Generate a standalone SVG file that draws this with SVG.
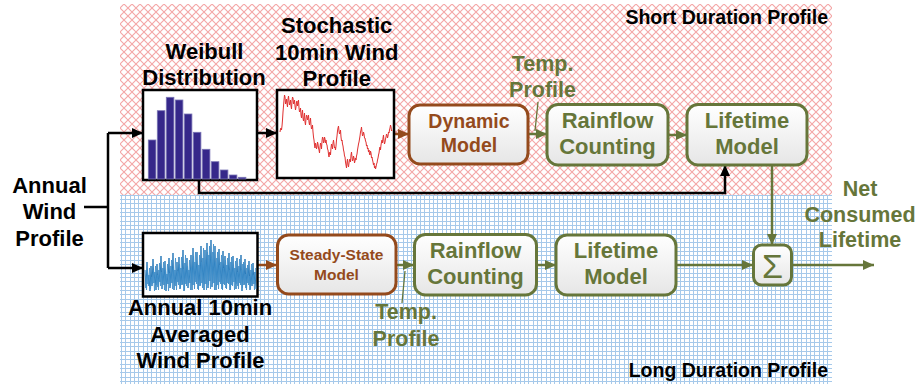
<svg xmlns="http://www.w3.org/2000/svg" width="919" height="388" viewBox="0 0 919 388">
<style>
text{font-family:"Liberation Sans",Arial,sans-serif;font-weight:bold;text-anchor:middle}
.k{fill:#000;font-size:22px}
.g{fill:#66763a;font-size:22px}
.gs{fill:#66763a;font-size:21.5px}
.b{fill:#944a1c;font-size:19.5px}
.bs{fill:#944a1c;font-size:15.5px}
.reg{fill:#000;font-size:19.5px;text-anchor:end}
.gbox{fill:url(#boxg);stroke:#66763a;stroke-width:3}
.bbox{fill:url(#boxg);stroke:#944a1c;stroke-width:3}
.img{fill:#fff;stroke:#000;stroke-width:2.5}
.ck{fill:none;stroke:#000;stroke-width:2.5}
.cg{fill:none;stroke:#66763a;stroke-width:2.5}
.cb{fill:none;stroke:#944a1c;stroke-width:2.5}
.lead{fill:none;stroke:#66763a;stroke-width:1.3}
.bar{fill:#36288a;stroke:#7a74b4;stroke-width:0.8}
</style>
<defs>
<pattern id="pink" width="8" height="8" patternUnits="userSpaceOnUse">
<rect width="8" height="8" fill="#fff"/>
<path d="M0,0 L8,8 M8,0 L0,8" stroke="#f4a6a6" stroke-width="1.1" fill="none"/>
</pattern>
<pattern id="blue" width="13" height="13" patternUnits="userSpaceOnUse">
<rect width="13" height="13" fill="#fff"/>
<path d="M0.5,0 V13 M4.5,0 V13 M8.5,0 V13 M0,0.5 H13 M0,4.5 H13 M0,8.5 H13" stroke="#a6c9ea" stroke-width="1" fill="none"/>
</pattern>
<linearGradient id="boxg" x1="0" y1="0" x2="0" y2="1">
<stop offset="0" stop-color="#ffffff"/>
<stop offset="1" stop-color="#e6e6e6"/>
</linearGradient>
<marker id="ak" markerUnits="userSpaceOnUse" markerWidth="11" markerHeight="10" refX="11" refY="5" orient="auto"><path d="M0,0 L11,5 L0,10 z" fill="#000"/></marker>
<marker id="ag" markerUnits="userSpaceOnUse" markerWidth="11" markerHeight="10" refX="11" refY="5" orient="auto"><path d="M0,0 L11,5 L0,10 z" fill="#66763a"/></marker>
<marker id="ab" markerUnits="userSpaceOnUse" markerWidth="11" markerHeight="10" refX="11" refY="5" orient="auto"><path d="M0,0 L11,5 L0,10 z" fill="#944a1c"/></marker>
</defs>

<g id="regions">
<rect x="120" y="4" width="712" height="191" fill="url(#pink)"/>
<rect x="120" y="195" width="712" height="189" fill="url(#blue)"/>
<text class="reg" x="828" y="24">Short Duration Profile</text>
<text class="reg" x="828" y="377">Long Duration Profile</text>
</g>

<g id="connectors">
<path class="ck" d="M84,207 H108 M108,133 V268"/>
<path class="ck" d="M108,133 H143" marker-end="url(#ak)"/>
<path class="ck" d="M108,268 H143" marker-end="url(#ak)"/>
<path class="ck" d="M257,133 H277" marker-end="url(#ak)"/>
<path class="ck" d="M199,180 V193 H725 V165" marker-end="url(#ak)"/>
<path class="cb" d="M394,134 H409" marker-end="url(#ab)"/>
<path class="cb" d="M258,265 H277" marker-end="url(#ab)"/>
<path class="cg" d="M528,134 H547" marker-end="url(#ag)"/>
<path class="cg" d="M668,135 H687" marker-end="url(#ag)"/>
<path class="cg" d="M772,165 V245" marker-end="url(#ag)"/>
<path class="cg" d="M396,265 H414" marker-end="url(#ag)"/>
<path class="cg" d="M537,265 H556" marker-end="url(#ag)"/>
<path class="cg" d="M676,265 H753" marker-end="url(#ag)"/>
<path class="cg" d="M792,265 H874" marker-end="url(#ag)"/>
<path class="lead" d="M538,102 L535,131"/>
<path class="lead" d="M405,271 L402,303"/>
</g>

<g id="annual-input">
<text class="k" x="49.5" y="193">Annual</text>
<text class="k" x="49.5" y="219">Wind</text>
<text class="k" x="49.5" y="246">Profile</text>
</g>

<g id="weibull">
<text class="k" x="204.5" y="59">Weibull</text>
<text class="k" x="204" y="85">Distribution</text>
<rect class="img" x="143" y="90" width="114" height="90"/>
<rect class="bar" x="148.3" y="140" width="7.6" height="39"/>
<rect class="bar" x="157.3" y="110.7" width="7.6" height="68.3"/>
<rect class="bar" x="166.3" y="97.3" width="7.6" height="81.7"/>
<rect class="bar" x="175.3" y="100" width="7.6" height="79"/>
<rect class="bar" x="184.3" y="114" width="7.6" height="65"/>
<rect class="bar" x="193.3" y="132.3" width="7.6" height="46.7"/>
<rect class="bar" x="202.3" y="149.3" width="7.6" height="29.7"/>
<rect class="bar" x="211.3" y="161.7" width="7.6" height="17.3"/>
<rect class="bar" x="220.3" y="170" width="7.6" height="9"/>
<rect class="bar" x="229.3" y="175" width="7.6" height="4"/>
<rect class="bar" x="238.3" y="177.3" width="7.6" height="1.7"/>
</g>

<g id="stochastic">
<text class="k" x="336.7" y="33">Stochastic</text>
<text class="k" x="336.7" y="60">10min Wind</text>
<text class="k" x="336.7" y="86">Profile</text>
<rect class="img" x="277" y="90" width="117" height="88"/>
<path fill="none" stroke="#e03030" stroke-width="1" d="M280,132 L280.5,129 L281,128 L281.5,130 L282,126 L282.5,120 L283,112 L283.5,106 L284,100 L284.5,95 L285,97 L285.5,104 L286,102 L286.5,99 L287,104 L287.5,107 L288,99 L288.5,96 L289,101 L289.5,105 L290,103 L290.5,100 L291,106 L291.5,109 L292,101 L292.5,97 L293,98 L293.5,104 L294,103 L294.5,100 L295,106 L295.5,110 L296,107 L296.5,102 L297,101 L297.5,106 L298,103 L298.5,100 L299,108 L299.5,112 L300,111 L300.5,108 L301,115 L301.5,118 L302,113 L302.5,110 L303,118 L303.5,121 L304,117 L304.5,113 L305,122 L305.5,125 L306,119 L306.5,115 L307,116 L307.5,120 L308,118 L308.5,115 L309,122 L309.5,125 L310,121 L310.5,118 L311,125 L311.5,129 L312,128 L312.5,125 L313,132 L313.5,137 L314,140 L314.5,145 L315,148 L315.5,143 L316,145 L316.5,149 L317,147 L317.5,142 L318,144 L318.5,148 L319,150 L319.5,153 L320,147 L320.5,143 L321,145 L321.5,149 L322,141 L322.5,137 L323,138 L323.5,143 L324,142 L324.5,137 L325,139 L325.5,143 L326,140 L326.5,144 L327,145 L327.5,149 L328,150 L328.5,154 L329,157 L329.5,153 L330,152 L330.5,155 L331,148 L331.5,144 L332,146 L332.5,149 L333,143 L333.5,140 L334,144 L334.5,148 L335,147 L335.5,150 L336,146 L336.5,140 L337,136 L337.5,131 L338,128 L338.5,126 L339,131 L339.5,134 L340,133 L340.5,130 L341,137 L341.5,141 L342,140 L342.5,144 L343,146 L343.5,150 L344,152 L344.5,156 L345,157 L345.5,162 L346,165 L346.5,168 L347,162 L347.5,159 L348,165 L348.5,167 L349,163 L349.5,160 L350,159 L350.5,162 L351,155 L351.5,152 L352,157 L352.5,161 L353,160 L353.5,156 L354,158 L354.5,163 L355,161 L355.5,158 L356,160 L356.5,156 L357,154 L357.5,150 L358,147 L358.5,144 L359,142 L359.5,139 L360,136 L360.5,132 L361,130 L361.5,127 L362,132 L362.5,136 L363,135 L363.5,132 L364,134 L364.5,138 L365,138 L365.5,141 L366,142 L366.5,146 L367,145 L367.5,149 L368,148 L368.5,152 L369,150 L369.5,154 L370,155 L370.5,151 L371,153 L371.5,158 L372,157 L372.5,160 L373,162 L373.5,165 L374,163 L374.5,168 L375,166 L375.5,169 L376,167 L376.5,164 L377,163 L377.5,160 L378,158 L378.5,155 L379,153 L379.5,149 L380,147 L380.5,150 L381,145 L381.5,142 L382,140 L382.5,143 L383,138 L383.5,135 L384,141 L384.5,144 L385,142 L385.5,139 L386,137 L386.5,134 L387,135 L387.5,138 L388,136 L388.5,132 L389,133 L389.5,130 L390,128 L390.5,125 L391,127 L391.5,131 L392,130"/>
</g>

<g id="dynamic">
<rect class="bbox" x="409" y="105" width="119" height="59" rx="11"/>
<text class="b" x="469" y="128">Dynamic</text>
<text class="b" x="469" y="152">Model</text>
</g>

<g id="temp-top">
<text class="gs" x="542.5" y="71">Temp.</text>
<text class="gs" x="542.5" y="97">Profile</text>
</g>

<g id="rainflow-top">
<rect class="gbox" x="547" y="104.5" width="121" height="60.5" rx="11"/>
<text class="g" x="607.5" y="128">Rainflow</text>
<text class="g" x="607.5" y="154">Counting</text>
</g>

<g id="lifetime-top">
<rect class="gbox" x="687" y="104.5" width="120" height="60.5" rx="11"/>
<text class="g" x="747" y="128">Lifetime</text>
<text class="g" x="747" y="154">Model</text>
</g>

<g id="annual10">
<rect class="img" x="143" y="233" width="114.5" height="63.5"/>
<path fill="none" stroke="#2b7bba" stroke-width="1" d="M145,270 L146,288 L147,262 L148,284 L149,275 L150,291 L151,266 L152,286 L153,259 L154,283 L155,272 L156,290 L157,264 L158,287 L159,270 L160,282 L161,256 L162,289 L163,268 L164,285 L165,261 L166,291 L167,274 L168,284 L169,258 L170,288 L171,266 L172,283 L173,253 L174,290 L175,270 L176,286 L177,262 L178,282 L179,257 L180,289 L181,268 L182,285 L183,250 L184,291 L185,263 L186,284 L187,258 L188,288 L189,270 L190,283 L191,255 L192,290 L193,248 L194,285 L195,262 L196,282 L197,252 L198,289 L199,265 L200,286 L201,246 L202,283 L203,258 L204,290 L205,250 L206,284 L207,243 L208,288 L209,255 L210,281 L211,240 L212,287 L213,252 L214,283 L215,246 L216,290 L217,258 L218,285 L219,249 L220,282 L221,262 L222,289 L223,251 L224,284 L225,256 L226,288 L227,265 L228,283 L229,253 L230,290 L231,262 L232,285 L233,256 L234,282 L235,268 L236,289 L237,258 L238,286 L239,266 L240,283 L241,255 L242,291 L243,264 L244,285 L245,259 L246,288 L247,268 L248,283 L249,261 L250,290 L251,270 L252,286 L253,263 L254,284 L255,272 L256,289"/>
<path fill="none" stroke="#3f8fcc" stroke-width="0.8" d="M145.5,276 L146.5,290 L147.5,271 L148.5,286 L149.5,268 L150.5,289 L151.5,277 L152.5,284 L153.5,270 L154.5,291 L155.5,266 L156.5,285 L157.5,275 L158.5,290 L159.5,263 L160.5,286 L161.5,272 L162.5,284 L163.5,262 L164.5,290 L165.5,270 L166.5,285 L167.5,264 L168.5,291 L169.5,273 L170.5,286 L171.5,260 L172.5,289 L173.5,268 L174.5,284 L175.5,258 L176.5,290 L177.5,271 L178.5,285 L179.5,264 L180.5,288 L181.5,257 L182.5,284 L183.5,269 L184.5,290 L185.5,255 L186.5,286 L187.5,266 L188.5,283 L189.5,260 L190.5,290 L191.5,268 L192.5,285 L193.5,256 L194.5,289 L195.5,252 L196.5,284 L197.5,264 L198.5,290 L199.5,255 L200.5,285 L201.5,262 L202.5,288 L203.5,248 L204.5,284 L205.5,260 L206.5,290 L207.5,252 L208.5,285 L209.5,246 L210.5,289 L211.5,258 L212.5,284 L213.5,244 L214.5,290 L215.5,262 L216.5,286 L217.5,252 L218.5,289 L219.5,265 L220.5,284 L221.5,255 L222.5,290 L223.5,268 L224.5,285 L225.5,260 L226.5,289 L227.5,258 L228.5,284 L229.5,270 L230.5,290 L231.5,257 L232.5,286 L233.5,266 L234.5,290 L235.5,261 L236.5,284 L237.5,272 L238.5,289 L239.5,259 L240.5,285 L241.5,270 L242.5,288 L243.5,262 L244.5,284 L245.5,274 L246.5,290 L247.5,265 L248.5,285 L249.5,276 L250.5,289 L251.5,264 L252.5,284 L253.5,275 L254.5,290 L255.5,268"/>
<text class="k" x="200" y="315">Annual 10min</text>
<text class="k" x="200" y="342">Averaged</text>
<text class="k" x="200.5" y="368">Wind Profile</text>
</g>

<g id="steady">
<rect class="bbox" x="277.5" y="235" width="118.5" height="59" rx="11"/>
<text class="bs" x="336.5" y="260">Steady-State</text>
<text class="bs" x="336.5" y="279.5">Model</text>
</g>

<g id="temp-bottom">
<text class="gs" x="406" y="319">Temp.</text>
<text class="gs" x="406" y="346">Profile</text>
</g>

<g id="rainflow-bottom">
<rect class="gbox" x="414.5" y="234.5" width="122" height="60.5" rx="11"/>
<text class="g" x="475.5" y="258">Rainflow</text>
<text class="g" x="475.5" y="284">Counting</text>
</g>

<g id="lifetime-bottom">
<rect class="gbox" x="556" y="235" width="120" height="60" rx="11"/>
<text class="g" x="616" y="258">Lifetime</text>
<text class="g" x="616" y="284">Model</text>
</g>

<g id="sum">
<rect class="gbox" x="753.5" y="245" width="38" height="40" rx="8"/>
<text x="772.5" y="278" style="font-weight:normal;font-size:34px;fill:#66763a">Σ</text>
</g>

<g id="net-label">
<text class="gs" x="860" y="196">Net</text>
<text class="gs" x="860" y="222">Consumed</text>
<text class="gs" x="860" y="247">Lifetime</text>
</g>
</svg>
